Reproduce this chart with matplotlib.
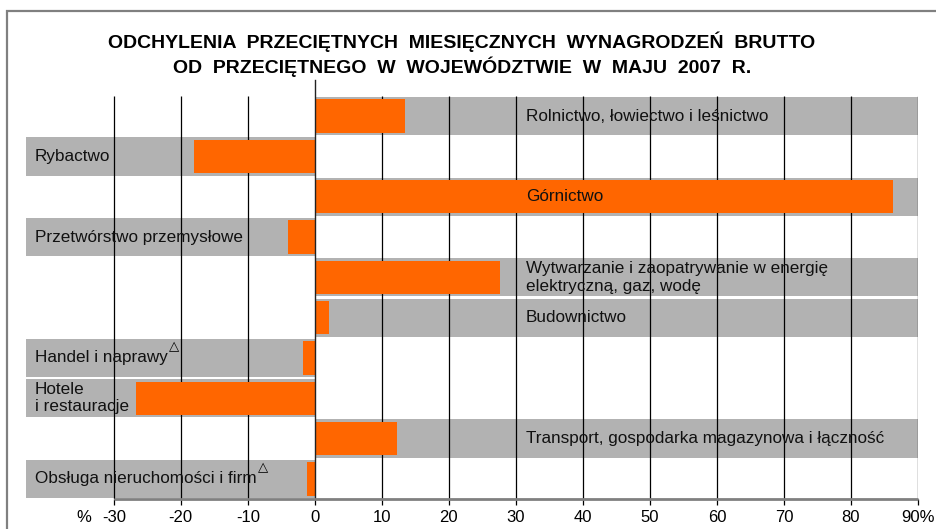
import matplotlib
matplotlib.use('Agg')
import matplotlib.pyplot as plt
from matplotlib.patches import Rectangle

plt.rcParams['font.family'] = ['Liberation Sans', 'DejaVu Sans']

# ---- data ----
categories = [
    "Rolnictwo, łowiectwo i leśnictwo",
    "Rybactwo",
    "Górnictwo",
    "Przetwórstwo przemysłowe",
    "Wytwarzanie i zaopatrywanie w energię\nelektryczną, gaz, wodę",
    "Budownictwo",
    "Handel i naprawy",
    "Hotele\ni restauracje",
    "Transport, gospodarka magazynowa i łączność",
    "Obsługa nieruchomości i firm",
]
values = [13.4, -18.1, 86.2, -4.0, 27.6, 2.1, -1.8, -26.7, 12.2, -1.1]
marked = [False, False, False, False, False, False, True, False, False, True]
xticks = [-30, -20, -10, 0, 10, 20, 30, 40, 50, 60, 70, 80, 90]
xtick_labels = ["-30", "-20", "-10", "0", "10", "20", "30", "40", "50", "60", "70", "80", "90%"]
title_lines = ["ODCHYLENIA  PRZECIĘTNYCH  MIESIĘCZNYCH  WYNAGRODZEŃ  BRUTTO",
               "OD  PRZECIĘTNEGO  W  WOJEWÓDZTWIE  W  MAJU  2007  R."]

ORANGE = '#FF6600'
GRAY = '#B2B2B2'
W, H = 937, 529

fig = plt.figure(figsize=(W / 100, H / 100), dpi=100)
ax = fig.add_axes([26 / W, 1 - 499 / H, (918 - 26) / W, (499 - 96) / H])
xmin, xmax = -43.1, 90
ax.set_xlim(xmin, xmax)
n = len(categories)
ax.set_ylim(n - 0.5, -0.5)
ys = list(range(n))

# gray background bands on the side of each bar
band_left = [0 if v >= 0 else xmin for v in values]
band_width = [xmax if v >= 0 else -xmin for v in values]
ax.barh(ys, band_width, left=band_left, height=0.95, color=GRAY, zorder=1, linewidth=0)

# vertical grid lines
grid_x = [t for t in xticks if t != 0]
ax.vlines(grid_x, -0.5, n - 0.5, color='black', linewidth=0.9, zorder=2)

# orange value bars
ax.barh(ys, values, height=0.83, color=ORANGE, zorder=3, linewidth=0)

# zero axis line (extends above the plot)
ax.plot([0, 0], [n - 0.5, -0.9], color='#222222', linewidth=1.0, zorder=4, clip_on=False)

# bottom axis line
ax.hlines(n - 0.5, xticks[0], xticks[-1], color='#808080', linewidth=2, zorder=5, clip_on=False)

for s in ax.spines.values():
    s.set_visible(False)
ax.set_yticks([])
ax.set_xticks(xticks)
ax.set_xticklabels(xtick_labels, fontsize=12)
ax.tick_params(axis='x', direction='out', length=4, width=0.9, color='black', pad=4)

# '%' before -30
ax.text(-34.5, -0.045, '%', transform=ax.get_xaxis_transform(), fontsize=12,
        ha='center', va='center')

# category labels
for i, (lab, v, m) in enumerate(zip(categories, values, marked)):
    x = 31.5 if v >= 0 else -41.8
    t = ax.text(x, i, lab, fontsize=12.3, ha='left', va='center', zorder=6, color='#111111')
    if m:
        ax.annotate('△', xy=(1, 0.5), xycoords=t, xytext=(5, 8), textcoords='offset points',
                    fontsize=9.5, ha='center', va='center', family=['DejaVu Sans'], zorder=6)

# title
fig.text(462 / W, 1 - 42 / H, title_lines[0], ha='center', va='center', fontsize=14, fontweight='bold')
fig.text(462 / W, 1 - 66.5 / H, title_lines[1], ha='center', va='center', fontsize=14, fontweight='bold')

# outer frame
fig.add_artist(Rectangle((7 / W, -0.05), 1.2, 1 - 11 / H + 0.05, transform=fig.transFigure,
                         fill=False, edgecolor='#808080', linewidth=1.6))

fig.savefig('out.png', dpi=100)
